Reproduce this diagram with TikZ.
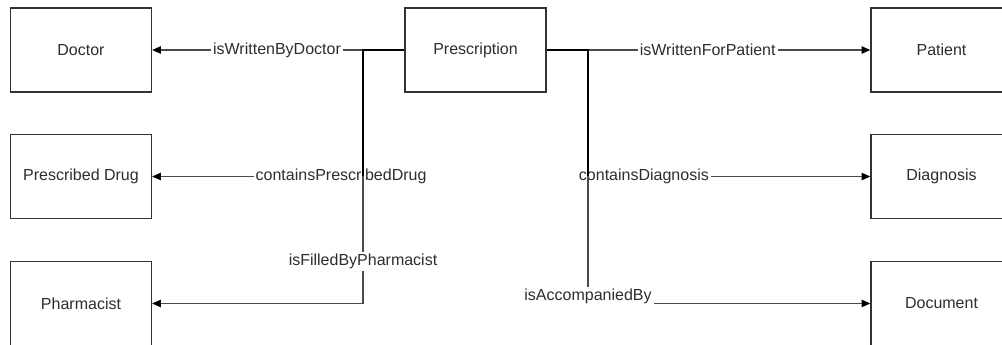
\documentclass[tikz,border=0pt]{standalone}
\usepackage{fontspec}
\setmainfont{Liberation Sans}
\usetikzlibrary{arrows.meta}
\definecolor{boxline}{HTML}{333333}
\definecolor{relline}{HTML}{4A4A4A}
\definecolor{txt}{HTML}{2E2E2E}
\tikzset{
  entity/.style={draw=boxline, line width=1pt, fill=white, minimum width=105.75pt, minimum height=63pt, inner sep=0pt, font=\fontsize{12pt}{14pt}\selectfont, text=txt},
  rel/.style={draw=relline, line width=0.9pt, -{Triangle[length=6.5pt,width=5.5pt,color=black]}},
  bus/.style={draw=black, line width=1.6pt},
  lbl/.style={fill=white, inner sep=1.5pt, font=\fontsize{12pt}{14pt}\selectfont, text=txt}
}
\begin{document}
\begin{tikzpicture}[x=0.75pt,y=-0.75pt]
\useasboundingbox (0,0) rectangle (1002,345);
\clip (0,0) rectangle (1002,345);
% entities
\node[entity] (pres) at (475.5,50) {Prescription};
\node[entity] (doc) at (81,50) {Doctor};
\node[entity] (drug) at (81,176.5) {Prescribed Drug};
\node[entity] (pharm) at (81,303.5) {Pharmacist};
\node[entity] (pat) at (941.5,50) {Patient};
\node[entity] (diag) at (941.5,176.5) {Diagnosis};
\node[entity] (docu) at (941.5,303.5) {Document};
% junctions
\coordinate (J1) at (363,50);
\coordinate (J2) at (588,50);
% left connectors
\draw[rel] (J1) -- (doc.east) node[lbl,pos=0.408] {isWrittenByDoctor};
\draw[rel] (J1) -- (J1 |- drug) -- (drug.east) node[lbl,pos=0.104] {containsPrescribedDrug};
\draw[rel] (J1) -- (J1 |- pharm) node[lbl,pos=0.834] {isFilledByPharmacist} -- (pharm.east);
% right connectors
\draw[rel] (J2) -- (pat.west) node[lbl,pos=0.424] {isWrittenForPatient};
\draw[rel] (J2) -- (J2 |- diag) -- (diag.west) node[lbl,pos=0.198] {containsDiagnosis};
\draw[rel] (J2) -- (J2 |- docu) node[lbl,yshift=5.5pt] {isAccompaniedBy} -- (docu.west);
% shared trunk segments
\draw[bus] (pres.west) -- (J1) -- (J1 |- drug);
\draw[bus] (pres.east) -- (J2) -- (J2 |- diag);
\end{tikzpicture}
\end{document}
